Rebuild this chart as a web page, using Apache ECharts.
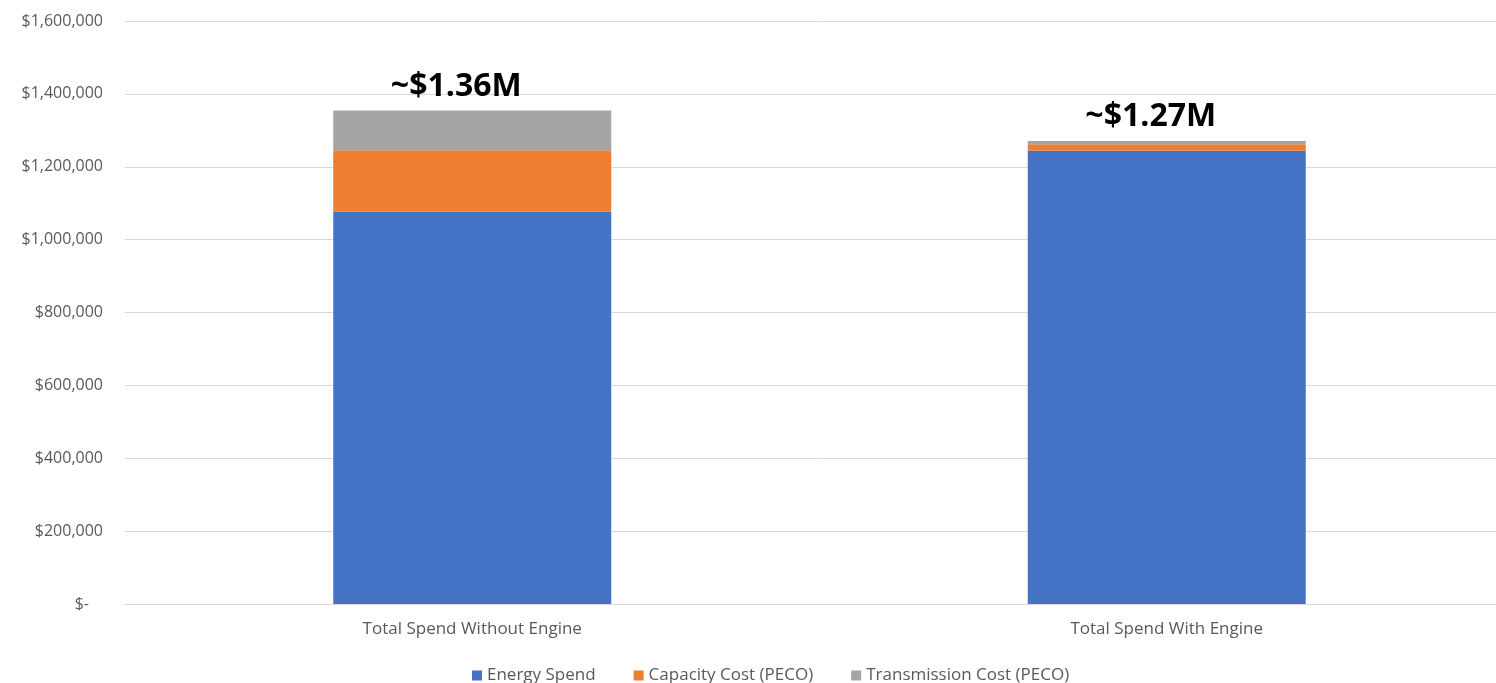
<!DOCTYPE html>
<html>
<head>
<meta charset="utf-8">
<script src="https://cdn.jsdelivr.net/npm/echarts@6/dist/echarts.min.js"></script>
<style>
  html, body { margin: 0; padding: 0; background: #fff; overflow: hidden; }
  /* plot area runs past the right edge of the window, as in the reference */
  #chart { width: 1514px; height: 683px; }
</style>
</head>
<body>
<div id="chart"></div>
<script>
// categories and values
const categories = ["Total Spend Without Engine", "Total Spend With Engine"];
const energySpend = [1077000, 1244000];
const capacityCost = [168500, 17600];
const transmissionCost = [108700, 9100];
const totalLabels = ["~$1.36M", "~$1.27M"];
const yTicks = [0, 200000, 400000, 600000, 800000, 1000000, 1200000, 1400000, 1600000];

const chart = echarts.init(document.getElementById("chart"));

function money(v) {
  if (v === 0) return "{z|$-}";
  return "$" + v.toLocaleString("en-US");
}

chart.setOption({
  animation: false,
  textStyle: { fontFamily: "Open Sans" },
  grid: { left: 125, top: 21, right: 0, height: 583 },
  legend: {
    bottom: -6,
    left: 467,
    itemWidth: 10,
    itemHeight: 10,
    itemGap: 38,
    icon: "rect",
    textStyle: { fontSize: 17, color: "#595959", fontFamily: "Open Sans" },
    data: ["Energy Spend", "Capacity Cost (PECO)", "Transmission Cost (PECO)"]
  },
  xAxis: {
    type: "category",
    data: categories,
    axisTick: { show: false },
    axisLine: { lineStyle: { color: "#d9d9d9" } },
    axisLabel: { color: "#595959", fontSize: 17, margin: 17 }
  },
  yAxis: {
    type: "value",
    min: yTicks[0],
    max: yTicks[yTicks.length - 1],
    interval: 200000,
    splitLine: { lineStyle: { color: "#d9d9d9" } },
    axisLabel: {
      color: "#595959",
      fontSize: 16,
      margin: 22,
      formatter: money,
      rich: { z: { color: "#595959", fontSize: 16, padding: [0, 14, 0, 0] } }
    }
  },
  series: [
    {
      name: "Energy Spend",
      type: "bar",
      stack: "total",
      barWidth: 278,
      itemStyle: { color: "#4472c4" },
      data: energySpend
    },
    {
      name: "Capacity Cost (PECO)",
      type: "bar",
      stack: "total",
      itemStyle: { color: "#ed7d31" },
      data: capacityCost
    },
    {
      name: "Transmission Cost (PECO)",
      type: "bar",
      stack: "total",
      itemStyle: { color: "#a5a5a5" },
      data: transmissionCost,
      label: {
        show: true,
        position: "top",
        distance: 8,
        offset: [-16, 0],
        fontSize: 32,
        fontWeight: "bold",
        color: "#000",
        fontFamily: "Open Sans",
        formatter: (p) => totalLabels[p.dataIndex]
      }
    }
  ]
});
</script>
</body>
</html>
